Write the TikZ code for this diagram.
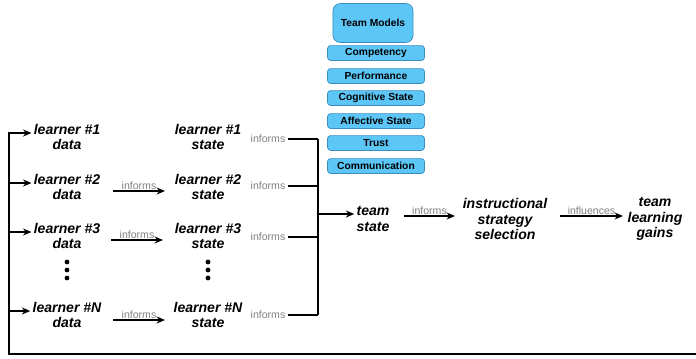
\documentclass[tikz,border=0pt]{standalone}
\usepackage{fontspec}
\setmainfont{Liberation Sans}
\usetikzlibrary{arrows.meta}
\definecolor{modelblue}{HTML}{5CC6F7}
\definecolor{modeledge}{HTML}{3B8DBF}
\definecolor{labelgray}{HTML}{808080}
\begin{document}
\begin{tikzpicture}[x=0.025cm, y=-0.025cm, >={Stealth[length=6pt,width=5pt]}, line width=1.3pt,
                    item node/.style={align=center, font=\fontsize{10}{11}\selectfont\bfseries\itshape, inner sep=1pt},
                    model node/.style={draw=modeledge, fill=modelblue, rounded corners=2pt, line width=0.5pt,
                                       minimum width=2.42cm, minimum height=0.37cm, inner sep=0pt,
                                       font=\fontsize{7.3}{8}\selectfont\bfseries},
                    verb node/.style={font=\fontsize{7.5}{8}\selectfont, text=labelgray, inner sep=1pt}]

  \useasboundingbox (0,0) rectangle (696,358);

  % Modelli del team (colonna in alto)
  \node[model node, minimum width=2cm, minimum height=0.97cm, rounded corners=5pt] (models) at (373,23) {Team Models};
  \node[model node] (comp) at (376,53) {Competency};
  \node[model node] (perf) at (376,76) {Performance};
  \node[model node] (cogn) at (376,98) {Cognitive State};
  \node[model node] (affe) at (376,121) {Affective State};
  \node[model node] (trus) at (376,143) {Trust};
  \node[model node] (comm) at (376,166) {Communication};

  % Dati dei learner
  \node[item node] (d1) at (67,137) {learner \#1\\data};
  \node[item node] (d2) at (67,187) {learner \#2\\data};
  \node[item node] (d3) at (67,236) {learner \#3\\data};
  \node[item node] (dN) at (67,315) {learner \#N\\data};

  % Stato dei learner
  \node[item node] (s1) at (208,137) {learner \#1\\state};
  \node[item node] (s2) at (208,187) {learner \#2\\state};
  \node[item node] (s3) at (208,236) {learner \#3\\state};
  \node[item node] (sN) at (208,315) {learner \#N\\state};

  % Puntini verticali
  \foreach \px in {67,208} {
    \foreach \py in {262,270,278}
      \fill (\px,\py) circle (2.4);
  }

  % Etichette a destra degli stati
  \node[verb node] (i1) at (268,139) {informs};
  \node[verb node] (i2) at (268,186) {informs};
  \node[verb node] (i3) at (268,237) {informs};
  \node[verb node] (iN) at (268,315) {informs};

  % Catena centrale
  \node[item node] (team) at (373,219) {team\\state};
  \node[item node] (strat) at (505,219) {instructional\\strategy\\selection};
  \node[item node] (gains) at (655,219) {team\\learning\\gains};

  % Estremi delle frecce intermedie
  \coordinate (a2) at (113,191);  \coordinate (z2) at (165,191);
  \coordinate (a3) at (111,240);  \coordinate (z3) at (163,240);
  \coordinate (aN) at (113,320);  \coordinate (zN) at (165,320);
  \coordinate (at) at (404,216);  \coordinate (zt) at (455,216);
  \coordinate (as) at (560,216);  \coordinate (zs) at (623,216);

  % Barra di raccolta
  \coordinate (b1) at (318,139);
  \coordinate (b2) at (318,186);
  \coordinate (b3) at (318,237);
  \coordinate (bN) at (318,315);
  \coordinate (bm) at (318,214);

  % Anello di ritorno
  \coordinate (fR) at (696,354);
  \coordinate (fL) at (9,354);
  \coordinate (f1) at (9,133);
  \coordinate (f2) at (9,183);
  \coordinate (f3) at (9,232);
  \coordinate (fN) at (9,311);

  \draw (i1) -- (b1);
  \draw (i2) -- (b2);
  \draw (i3) -- (b3);
  \draw (iN) -- (bN);
  \draw (b1) -- (bN);
  \draw[->] (bm) -- (bm -| team.west);

  \draw[->] (a2) -- node[verb node, above=-1pt] {informs} (z2);
  \draw[->] (a3) -- node[verb node, above=-1pt] {informs} (z3);
  \draw[->] (aN) -- node[verb node, above=-1pt] {informs} (zN);

  \draw[->] (at) -- node[verb node, above=-1pt] {informs} (zt);
  \draw[->] (as) -- node[verb node, above=-1pt] {influences} (zs);

  % Ritorno verso i dati
  \draw[->] (fR) -- (fL) -- (f1) -- (f1 -| d1.west);
  \draw[->] (f2) -- (f2 -| d2.west);
  \draw[->] (f3) -- (f3 -| d3.west);
  \draw[->] (fN) -- (fN -| dN.west);

\end{tikzpicture}
\end{document}
